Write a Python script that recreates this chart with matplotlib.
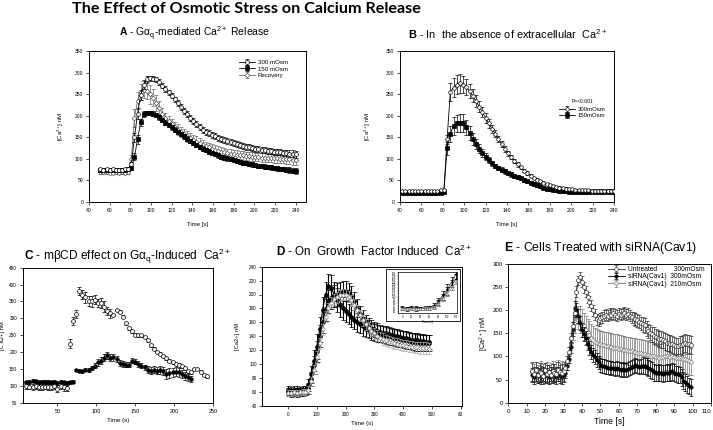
import numpy as np
import matplotlib
matplotlib.use('Agg')
import matplotlib.pyplot as plt
from matplotlib.patches import Rectangle

plt.rcParams['font.family'] = ['Liberation Sans', 'DejaVu Sans']
plt.rcParams['mathtext.fontset'] = 'custom'
plt.rcParams['mathtext.rm'] = 'Liberation Sans'
plt.rcParams['mathtext.it'] = 'Liberation Sans:italic'
plt.rcParams['mathtext.bf'] = 'Liberation Sans:bold'

# ---------------- Panel A data ----------------
tA = np.arange(51, 241, 3)
a300 = [76, 75, 76, 75, 76, 75, 74, 75, 76, 77,
        88, 150, 205, 248, 272, 284, 287, 286, 284, 278,
        270, 262, 254, 246, 238, 229, 220, 211, 203, 195,
        188, 181, 174, 168, 163, 159, 155, 152, 149, 146,
        143, 141, 139, 136, 134, 132, 130, 128, 127, 125,
        123, 122, 121, 120, 119, 118, 117, 116, 115, 114,
        113, 112, 112, 111]
a300_err = [3, 3, 3, 3, 3, 3, 3, 3, 3, 3,
            5, 10, 12, 12, 10, 8, 6, 6, 6, 6,
            6, 6, 6, 6, 6, 7, 7, 7, 7, 7,
            7, 7, 7, 7, 7, 7, 7, 7, 7, 7,
            7, 7, 7, 7, 7, 7, 7, 7, 7, 7,
            7, 7, 7, 7, 7, 7, 7, 7, 7, 7,
            7, 8, 8, 8]
a150 = [74, 74, 75, 74, 74, 75, 74, 74, 75, 76,
        78, 105, 145, 185, 204, 207, 206, 205, 201, 196,
        190, 184, 178, 173, 168, 162, 157, 152, 147, 142,
        137, 132, 128, 124, 120, 117, 114, 111, 108, 105,
        103, 101, 99, 97, 95, 93, 91, 90, 88, 87,
        85, 84, 83, 82, 81, 80, 79, 78, 77, 76,
        75, 74, 73, 72]
a150_err = [3, 3, 3, 3, 3, 3, 3, 3, 3, 3,
            4, 8, 10, 8, 6, 5, 5, 5, 5, 5,
            5, 5, 5, 5, 5, 5, 5, 5, 5, 5,
            5, 5, 5, 5, 5, 5, 5, 5, 5, 5,
            5, 5, 5, 5, 5, 5, 5, 5, 5, 5,
            5, 5, 5, 5, 5, 5, 5, 5, 5, 5,
            6, 6, 6, 6]
arec = [70, 69, 70, 68, 68, 69, 68, 69, 68, 70,
        100, 195, 235, 255, 260, 258, 250, 242, 230, 218,
        205, 195, 188, 181, 174, 168, 162, 157, 152, 148,
        144, 140, 136, 133, 130, 127, 124, 121, 119, 117,
        115, 113, 112, 111, 110, 109, 108, 107, 106, 105,
        104, 104, 103, 103, 102, 102, 101, 101, 100, 100,
        99, 99, 98, 98]
arec_err = [4, 4, 4, 4, 4, 4, 4, 4, 4, 4,
            10, 20, 20, 18, 20, 20, 22, 20, 18, 15,
            12, 12, 12, 12, 12, 12, 12, 12, 12, 12,
            12, 12, 12, 10, 10, 10, 10, 10, 10, 10,
            10, 10, 10, 10, 10, 10, 10, 10, 10, 10,
            10, 10, 10, 10, 10, 10, 10, 10, 10, 10,
            12, 12, 12, 12]

# ---------------- Panel B data ----------------
tB = np.arange(42, 241, 3)
b300 = [26, 26, 26, 26, 26, 26, 26, 26, 26, 26,
        26, 26, 27, 27, 145, 255, 265, 272, 275, 272,
        266, 257, 246, 234, 221, 208, 195, 182, 170, 158,
        146, 134, 123, 113, 104, 95, 87, 80, 73, 67,
        61, 56, 52, 48, 45, 42, 39, 37, 35, 33,
        32, 31, 30, 29, 28, 28, 27, 27, 27, 26,
        26, 26, 26, 26, 26, 26, 26]
b300_err = [2, 2, 2, 2, 2, 2, 2, 2, 2, 2,
            2, 2, 2, 2, 10, 20, 22, 22, 22, 20,
            18, 16, 15, 14, 13, 12, 11, 10, 9, 8,
            7, 7, 6, 6, 5, 5, 5, 4, 4, 4,
            3, 3, 3, 3, 3, 3, 3, 3, 3, 3,
            3, 3, 3, 3, 3, 3, 3, 3, 3, 3,
            3, 3, 3, 3, 3, 3, 3]
b150 = [22, 22, 22, 22, 22, 22, 22, 22, 22, 22,
        22, 22, 22, 24, 125, 158, 176, 182, 183, 183,
        173, 160, 147, 135, 124, 114, 105, 97, 90, 84,
        79, 75, 71, 67, 64, 61, 58, 55, 51, 48,
        45, 42, 39, 36, 33, 31, 29, 28, 27, 26,
        25, 25, 24, 24, 24, 23, 23, 23, 23, 23,
        23, 23, 23, 23, 23, 23, 23]
b150_err = [2, 2, 2, 2, 2, 2, 2, 2, 2, 2,
            2, 2, 2, 2, 15, 18, 20, 20, 20, 20,
            18, 16, 14, 12, 10, 9, 8, 7, 6, 5,
            5, 5, 5, 5, 5, 5, 5, 4, 4, 4,
            4, 4, 4, 4, 3, 3, 3, 3, 3, 3,
            3, 3, 3, 3, 3, 3, 3, 3, 3, 3,
            3, 3, 3, 3, 3, 3, 3]

# ---------------- Panel C data ----------------
tC_open = np.arange(10, 243, 4)
c_open = [100, 98, 97, 99, 97, 96, 98, 97, 96, 99,
          92, 100, 96, 94, 225, 292, 312, 380, 370, 362,
          352, 350, 355, 345, 345, 335, 322, 315, 310, 325,
          320, 305, 285, 270, 262, 252, 250, 250, 245, 235,
          220, 210, 200, 195, 188, 182, 175, 170, 165, 163,
          158, 152, 143, 140, 150, 150, 142, 132, 128]
c_open_err = [8, 8, 8, 8, 8, 8, 8, 8, 8, 8,
              10, 8, 10, 10, 14, 12, 12, 12, 14, 16,
              14, 16, 14, 12, 14, 16, 12, 14, 4, 4,
              4, 4, 4, 4, 4, 4, 4, 4, 4, 4,
              4, 4, 4, 4, 4, 4, 4, 4, 4, 4,
              4, 4, 4, 4, 4, 4, 4, 4, 4]
tC_fill = np.arange(10, 223, 4)
c_fill = [110, 112, 115, 113, 110, 112, 111, 112, 110, 111,
          108, 112, 110, 108, 110, 112, 147, 145, 143, 148,
          147, 152, 160, 170, 175, 183, 190, 183, 185, 180,
          168, 165, 163, 163, 175, 172, 165, 160, 155, 148,
          145, 148, 145, 147, 145, 135, 138, 140, 142, 140,
          135, 130, 125, 120]
c_fill_err = [5, 5, 5, 5, 5, 5, 5, 5, 5, 5,
              5, 5, 5, 5, 5, 5, 4, 4, 4, 4,
              5, 6, 8, 10, 10, 10, 10, 10, 10, 8,
              8, 8, 8, 8, 8, 8, 8, 8, 8, 10,
              10, 10, 10, 12, 12, 14, 14, 14, 14, 14,
              12, 12, 10, 10]

# ---------------- Panel D data ----------------
tD = np.arange(0, 491, 10)
d1 = [60, 58, 60, 59, 60, 60, 62, 70, 85, 105,
      125, 150, 178, 200, 212, 210, 200, 192, 185, 180,
      176, 172, 168, 164, 160, 157, 154, 151, 149, 147,
      145, 144, 143, 142, 141, 140, 139, 138, 137, 136,
      135, 134, 133, 132, 131, 131, 130, 130, 130, 130]
d1_err = [6, 6, 6, 6, 6, 6, 7, 9, 12, 15,
          18, 18, 18, 18, 18, 18, 18, 17, 17, 16,
          16, 15, 15, 14, 14, 13, 13, 12, 12, 12,
          12, 12, 12, 12, 12, 12, 12, 12, 12, 12,
          12, 12, 12, 12, 12, 12, 12, 12, 12, 12]
d2 = [62, 61, 62, 62, 61, 62, 62, 65, 78, 98,
      118, 140, 160, 178, 190, 195, 198, 200, 203, 205,
      205, 203, 198, 190, 180, 172, 165, 160, 155, 152,
      150, 148, 146, 145, 144, 143, 142, 141, 140, 139,
      138, 137, 136, 135, 135, 134, 133, 133, 132, 132]
d2_err = [6, 6, 6, 6, 6, 6, 7, 8, 10, 13,
          15, 16, 16, 16, 16, 16, 16, 16, 15, 15,
          15, 14, 14, 13, 13, 12, 12, 11, 11, 11,
          11, 11, 10, 10, 10, 10, 10, 10, 10, 10,
          10, 10, 10, 10, 10, 10, 10, 10, 10, 10]
d3 = [58, 58, 59, 58, 59, 60, 60, 63, 75, 92,
      110, 130, 150, 168, 180, 188, 193, 196, 199, 200,
      200, 197, 192, 185, 177, 170, 163, 157, 152, 148,
      144, 141, 138, 136, 134, 132, 131, 130, 129, 128,
      127, 126, 125, 125, 124, 124, 123, 123, 123, 122]
d3_err = [4, 4, 4, 4, 4, 4, 4, 5, 6, 7,
          8, 8, 8, 8, 8, 8, 8, 8, 8, 8,
          8, 8, 8, 8, 8, 8, 8, 8, 8, 8,
          8, 8, 8, 8, 8, 8, 8, 8, 8, 8,
          8, 8, 8, 8, 8, 8, 8, 8, 8, 8]

# ---------------- Panel E data ----------------
tE = np.arange(13, 100, 1)
e_un = [68, 62, 70, 60, 66, 64, 58, 70, 62, 66,
        60, 68, 64, 62, 70, 66, 64, 68, 75, 90,
        110, 140, 165, 195, 240, 265, 272, 262, 250, 240,
        228, 218, 210, 200, 190, 180, 178, 183, 185, 188,
        190, 188, 192, 190, 193, 190, 188, 192, 190, 192,
        195, 190, 192, 188, 185, 182, 180, 178, 175, 172,
        170, 167, 160, 155, 151, 148, 145, 142, 140, 138,
        137, 136, 133, 130, 129, 128, 126, 124, 122, 123,
        125, 124, 127, 129, 126, 127, 125]
e_un_err = [20, 15, 18, 15, 20, 15, 18, 15, 20, 15,
            18, 15, 20, 15, 18, 15, 20, 15, 12, 10,
            10, 10, 10, 10, 12, 10, 10, 12, 12, 12,
            12, 12, 12, 12, 12, 12, 12, 12, 12, 12,
            12, 12, 12, 12, 12, 12, 12, 12, 12, 12,
            12, 12, 12, 12, 12, 14, 14, 14, 14, 14,
            16, 16, 16, 16, 16, 16, 18, 18, 18, 18,
            18, 18, 18, 18, 18, 18, 18, 18, 18, 18,
            20, 20, 20, 20, 20, 20, 20]
e_si300 = [60, 55, 62, 58, 60, 56, 62, 58, 60, 55,
           62, 58, 60, 56, 62, 58, 55, 60, 65, 80,
           95, 120, 160, 205, 200, 188, 172, 158, 148, 140,
           128, 118, 110, 103, 98, 92, 87, 82, 80, 79,
           78, 76, 75, 76, 74, 73, 75, 72, 71, 72,
           70, 71, 73, 75, 78, 80, 82, 80, 78, 79,
           80, 79, 78, 75, 72, 70, 66, 64, 64, 65,
           64, 63, 64, 65, 64, 66, 68, 65, 62, 61,
           60, 55, 48, 44, 40, 36, 33]
e_si300_err = [15, 15, 15, 15, 15, 15, 15, 15, 15, 15,
               15, 15, 15, 15, 15, 15, 15, 15, 12, 10,
               10, 12, 15, 15, 15, 15, 15, 15, 15, 15,
               15, 15, 15, 15, 15, 15, 15, 15, 15, 15,
               15, 15, 15, 15, 15, 15, 15, 15, 15, 15,
               15, 15, 15, 15, 15, 15, 15, 15, 15, 15,
               18, 18, 18, 18, 18, 18, 18, 18, 18, 18,
               18, 18, 18, 18, 18, 18, 18, 18, 18, 18,
               18, 18, 18, 18, 18, 18, 18]
e_si210 = [66, 64, 68, 62, 65, 70, 64, 66, 68, 62,
           66, 70, 64, 68, 72, 66, 70, 68, 72, 85,
           105, 130, 155, 175, 195, 185, 180, 172, 165, 158,
           152, 146, 140, 136, 132, 130, 128, 126, 125, 124,
           123, 122, 121, 120, 119, 118, 118, 117, 116, 115,
           114, 113, 112, 112, 111, 110, 109, 108, 108, 107,
           106, 105, 104, 103, 102, 101, 100, 99, 98, 97,
           98, 99, 100, 101, 100, 99, 100, 98, 97, 96,
           97, 96, 95, 94, 92, 90, 89]
e_si210_err = [20, 20, 20, 20, 20, 20, 20, 20, 20, 20,
               20, 20, 20, 20, 20, 20, 20, 20, 15, 15,
               15, 15, 20, 25, 25, 25, 30, 30, 30, 30,
               30, 30, 30, 30, 30, 30, 30, 30, 30, 30,
               30, 30, 30, 30, 30, 30, 30, 30, 30, 30,
               30, 30, 30, 30, 30, 30, 30, 30, 30, 30,
               30, 30, 30, 30, 30, 30, 30, 30, 30, 30,
               30, 30, 30, 30, 30, 30, 30, 30, 30, 30,
               30, 30, 30, 30, 30, 30, 30]

W, H = 713, 430
fig = plt.figure(figsize=(W / 100, H / 100), dpi=100)


def box(l, t, r, b):
    return [l / W, 1 - b / H, (r - l) / W, (b - t) / H]


def style(ax, fs, xpad=2.5, ypad=2.0):
    ax.tick_params(axis='x', direction='out', length=2, width=0.5, labelsize=fs, pad=xpad)
    ax.tick_params(axis='y', direction='out', length=2, width=0.5, labelsize=fs, pad=ypad)
    for s in ax.spines.values():
        s.set_linewidth(0.7)


def eb(ax, x, y, e, marker, mfc, mec, lc, ms=2.6, label=None, z=2, ec=None, lw=0.6,
       cap=1.2, elw=0.5):
    ax.errorbar(x, y, yerr=e, fmt='-', marker=marker, ms=ms, mfc=mfc, mec=mec, mew=0.5,
                color=lc, lw=lw, ecolor=ec if ec else lc, elinewidth=elw, capsize=cap,
                capthick=elw, label=label, zorder=z)


fig.text(72 / W, 1 - 9 / H, 'The Effect of Osmotic Stress on Calcium Release',
         fontsize=11.6, fontweight='bold', family=['Lato', 'DejaVu Sans'],
         ha='left', va='center')

# ---------- A ----------
axA = fig.add_axes(box(89, 51, 306, 202))
eb(axA, tA, arec, arec_err, 'D', 'white', '#555555', '#666666', ms=2.4, label='Recovery', z=2)
eb(axA, tA, a150, a150_err, 's', 'black', 'black', 'black', ms=2.4, label='150 mOsm', z=3)
eb(axA, tA, a300, a300_err, 'o', 'white', 'black', 'black', ms=2.8, label='300 mOsm', z=4)
axA.set_xlim(40, 250)
axA.set_ylim(0, 350)
axA.set_xticks(np.arange(40, 241, 20))
axA.set_yticks(np.arange(0, 351, 50))
style(axA, 3.6)
h, l = axA.get_legend_handles_labels()
axA.legend(h[::-1], l[::-1], loc='upper left', bbox_to_anchor=(0.69, 0.94), frameon=False,
           fontsize=4.4, handlelength=2.6, handletextpad=0.5, labelspacing=0.15, borderpad=0,
           borderaxespad=0)
axA.set_ylabel('[Ca$^{2+}$] nM', fontsize=4.3)
axA.yaxis.set_label_coords(-0.105, 0.5)
axA.text(0.5, -0.152, 'Time [s]', transform=axA.transAxes, ha='center', va='center', fontsize=4.3)
fig.text(195 / W, 1 - 34 / H, r'$\mathbf{A}$ - Gα$_{\mathrm{q}}$-mediated Ca$^{2+}$ Release',
         fontsize=7.5, ha='center', va='center')

# ---------- B ----------
axB = fig.add_axes(box(400, 51, 614, 202))
eb(axB, tB, b150, b150_err, 's', 'black', 'black', 'black', ms=2.4, label='150mOsm', z=3)
eb(axB, tB, b300, b300_err, 'o', 'white', 'black', 'black', ms=2.6, label='300mOsm', z=4)
axB.set_xlim(40, 240)
axB.set_ylim(0, 350)
axB.set_xticks(np.arange(40, 241, 20))
axB.set_yticks(np.arange(0, 351, 50))
style(axB, 3.6)
h, l = axB.get_legend_handles_labels()
axB.legend(h[::-1], l[::-1], loc='upper left', bbox_to_anchor=(0.745, 0.63), frameon=False,
           fontsize=4.3, handlelength=2.6, handletextpad=0.4, labelspacing=0.15, borderpad=0,
           borderaxespad=0)
axB.text(0.855, 0.65, 'P=<0.001', transform=axB.transAxes, ha='center', va='bottom', fontsize=3.6)
axB.set_ylabel('[Ca$^{2+}$] nM', fontsize=4.3)
axB.yaxis.set_label_coords(-0.125, 0.5)
axB.text(0.5, -0.152, 'Time [s]', transform=axB.transAxes, ha='center', va='center', fontsize=4.3)
fig.text(508 / W, 1 - 34 / H, r'$\mathbf{B}$ - In  the absence of extracellular  Ca$^{2+}$',
         fontsize=7.9, ha='center', va='center')

# ---------- C ----------
axC = fig.add_axes(box(22.5, 267.7, 213, 402.7))
eb(axC, tC_fill, c_fill, c_fill_err, 'o', 'black', 'black', 'black', ms=2.6, z=3, lw=0)
eb(axC, tC_open, c_open, c_open_err, 'o', 'white', 'black', 'black', ms=2.8, z=4, lw=0)
axC.set_xlim(5, 250)
axC.set_ylim(50, 450)
axC.set_xticks([50, 100, 150, 200, 250])
axC.set_yticks(np.arange(50, 451, 50))
style(axC, 3.4)
axC.tick_params(axis='x', labelsize=4)
axC.set_ylabel('[C a2+] nM', fontsize=4.2)
axC.yaxis.set_label_coords(-0.09, 0.5)
axC.set_xlabel('Time (s)', fontsize=4.4, labelpad=3)
fig.text(127 / W, 1 - 256 / H, r'$\mathbf{C}$ - mβCD effect on Gα$_{\mathrm{q}}$-Induced  Ca$^{2+}$',
         fontsize=8.6, ha='center', va='center')

# ---------- D ----------
axD = fig.add_axes(box(262.3, 266.7, 462, 405.7))
eb(axD, tD, d1, d1_err, 'o', 'black', 'black', 'black', ms=2.8, z=3, cap=1.8, elw=0.8, lw=0.8)
eb(axD, tD, d2, d2_err, 'o', '#111111', 'black', 'black', ms=2.8, z=3, cap=1.8, elw=0.8, lw=0.8)
eb(axD, tD, d3, d3_err, 'o', 'white', '#888888', '#999999', ms=2.4, z=4, ec='#aaaaaa')
axD.set_xlim(-90, 605)
axD.set_ylim(40, 240)
axD.set_xticks([0, 100, 200, 300, 400, 500, 600])
axD.set_xticklabels(['0', '100', '200', '300', '400', '500', '60'])
axD.set_yticks(np.arange(40, 241, 20))
style(axD, 3.3)
axD.set_ylabel('[Ca2+] nM', fontsize=4.2)
axD.yaxis.set_label_coords(-0.11, 0.5)
axD.set_xlabel('Time (s)', fontsize=4.4, labelpad=3)
fig.text(374 / W, 1 - 251 / H, r'$\mathbf{D}$ - On  Growth  Factor Induced  Ca$^{2+}$',
         fontsize=8.4, ha='center', va='center')

rect = Rectangle((386 / W, 1 - 321 / H), 73.7 / W, 51.7 / H, transform=fig.transFigure,
                 facecolor='white', edgecolor='black', linewidth=0.6, zorder=5)
fig.patches.append(rect)
axI = fig.add_axes(box(398, 271.7, 457, 313))
axI.set_zorder(6)
eb(axI, tD, d1, d1_err, 'o', 'black', 'black', 'black', ms=1.2, z=3, lw=0.4)
eb(axI, tD, d2, d2_err, 'o', 'black', 'black', 'black', ms=1.2, z=3, lw=0.4)
eb(axI, tD, d3, d3_err, 'o', 'white', '#888888', '#999999', ms=1.2, z=4, ec='#aaaaaa', lw=0.4)
axI.set_xlim(-10, 122)
axI.set_ylim(45, 185)
axI.set_xticks([0, 20, 40, 60, 80, 100, 120])
axI.set_yticks(np.arange(50, 181, 10))
axI.tick_params(direction='out', length=1, width=0.3, labelsize=1.8, pad=0.5)
for s in axI.spines.values():
    s.set_linewidth(0.5)
axI.set_xlabel('Time (s)', fontsize=2.2, labelpad=0.5)

# ---------- E ----------
axE = fig.add_axes(box(508.3, 264, 711, 402.7))
eb(axE, tE, e_si210, e_si210_err, 'o', 'white', '#777777', '#777777', ms=2.6,
   label='siRNA(Cav1)  210mOsm', z=2)
eb(axE, tE, e_si300, e_si300_err, 'o', 'black', 'black', 'black', ms=2.4,
   label='siRNA(Cav1)  300mOsm', z=3)
eb(axE, tE, e_un, e_un_err, 'o', 'white', '#333333', '#333333', ms=2.8,
   label='Untreated         300mOsm', z=4)
axE.set_xlim(0, 110)
axE.set_ylim(0, 300)
axE.set_xticks(np.arange(0, 111, 10))
axE.set_yticks(np.arange(0, 301, 50))
style(axE, 4.4)
axE.get_xticklabels()[-1].set_horizontalalignment('right')
h, l = axE.get_legend_handles_labels()
axE.legend(h[::-1], l[::-1], loc='upper left', bbox_to_anchor=(0.49, 0.985), frameon=False,
           fontsize=4.8, handlelength=2.6, handletextpad=0.5, labelspacing=0.05, borderpad=0,
           borderaxespad=0)
axE.set_ylabel('[Ca$^{2+}$] nM', fontsize=5.2)
axE.yaxis.set_label_coords(-0.085, 0.5)
axE.set_xlabel('Time [s]', fontsize=6.2, labelpad=2)
fig.text(601 / W, 1 - 248 / H, r'$\mathbf{E}$ - Cells Treated with siRNA(Cav1)',
         fontsize=8.8, ha='center', va='center')

fig.savefig('out.png', dpi=100)
